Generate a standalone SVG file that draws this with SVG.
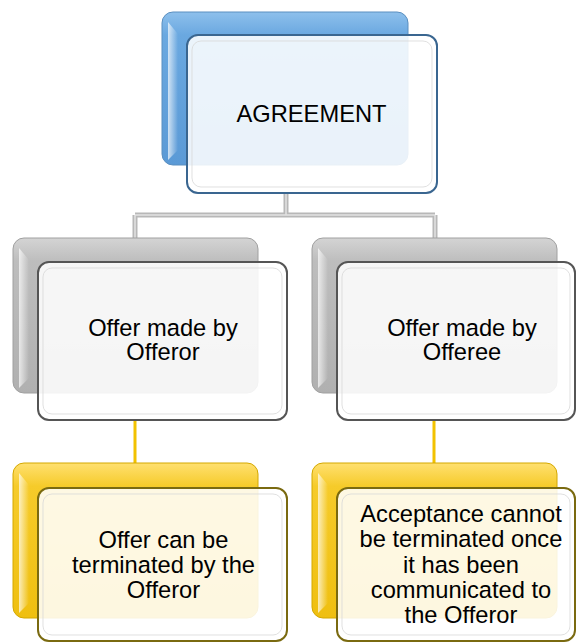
<svg xmlns="http://www.w3.org/2000/svg" width="576" height="642" viewBox="0 0 576 642">
<defs>
<linearGradient id="gBlue" x1="0" y1="0" x2="0" y2="1">
<stop offset="0" stop-color="#8ec0ec"/><stop offset="0.15" stop-color="#6aa8e0"/><stop offset="1" stop-color="#5b9ad6"/>
</linearGradient>
<linearGradient id="gGrey" x1="0" y1="0" x2="0" y2="1">
<stop offset="0" stop-color="#d4d4d4"/><stop offset="0.15" stop-color="#bdbdbd"/><stop offset="1" stop-color="#b0b0b0"/>
</linearGradient>
<linearGradient id="gGold" x1="0" y1="0" x2="0" y2="1">
<stop offset="0" stop-color="#ffe070"/><stop offset="0.15" stop-color="#f6cb2a"/><stop offset="1" stop-color="#efbf10"/>
</linearGradient>
<linearGradient id="gLeft" x1="0" y1="0" x2="1" y2="0">
<stop offset="0" stop-color="#ffffff" stop-opacity="0.7"/><stop offset="1" stop-color="#ffffff" stop-opacity="0"/>
</linearGradient>
</defs>
<style>
.back{stroke-width:1}
.bb{fill:url(#gBlue);stroke:#5a8fc0}
.bg{fill:url(#gGrey);stroke:#a0a0a0}
.by{fill:url(#gGold);stroke:#d4a800}
.hl{fill:url(#gLeft)}
.front{fill:#ffffff;fill-opacity:0.87;stroke-width:2}
.fb{stroke:#3a6690}
.fg{stroke:#555555}
.fy{stroke:#7a6a10}
.inner{fill:none;stroke:#ffffff;stroke-width:3;stroke-opacity:0.9}
.innerShade{fill:none;stroke:#d8d8d8;stroke-width:1;stroke-opacity:0.8}
.t{font-family:"Liberation Sans",Arial,sans-serif;font-size:23.7px;fill:#000;text-anchor:middle}
.cg{stroke:#b8b8b8;stroke-width:5;fill:none}
.cgi{stroke:#e2e2e2;stroke-width:1.5;fill:none}
.cy{stroke:#f2c200;stroke-width:3;fill:none}
</style>
<g id="connectors">
<path class="cg" d="M286,192 V215 M135,215 H435 M135,215 V239 M435,215 V239"/>
<path class="cgi" d="M286,192 V215 M135,215 H435 M135,215 V239 M435,215 V239"/>
<path class="cy" d="M135,420 V464 M434,420 V464"/>
</g>
<g id="agreement">
<rect class="back bb" x="162" y="12" width="246" height="153" rx="11"/>
<path class="hl" d="M168,22 L178,34 V150 L168,160 Z"/>
<rect class="front fb" x="187" y="35" width="250" height="158" rx="11"/>
<rect class="innerShade" x="192" y="41" width="240" height="146" rx="9"/>
<text class="t" x="311.5" y="122">AGREEMENT</text>
</g>
<g id="offeror">
<rect class="back bg" x="13" y="238" width="245" height="155" rx="11"/>
<path class="hl" d="M19,248 L29,260 V378 L19,388 Z"/>
<rect class="front fg" x="38" y="262" width="249" height="158" rx="11"/>
<rect class="innerShade" x="43" y="268" width="239" height="146" rx="9"/>
<text class="t" x="163" y="335.5">Offer made by</text>
<text class="t" x="163" y="360">Offeror</text>
</g>
<g id="offeree">
<rect class="back bg" x="312" y="238" width="245" height="155" rx="11"/>
<path class="hl" d="M318,248 L328,260 V378 L318,388 Z"/>
<rect class="front fg" x="337" y="262" width="238" height="158" rx="11"/>
<rect class="innerShade" x="342" y="268" width="228" height="146" rx="9"/>
<text class="t" x="462" y="335.5">Offer made by</text>
<text class="t" x="462" y="360">Offeree</text>
</g>
<g id="offer-terminated">
<rect class="back by" x="13" y="463" width="245" height="155" rx="11"/>
<path class="hl" d="M19,473 L29,485 V603 L19,613 Z"/>
<rect class="front fy" x="38" y="488" width="249" height="153" rx="11"/>
<rect class="innerShade" x="43" y="494" width="239" height="141" rx="9"/>
<text class="t" x="163.5" y="548">Offer can be</text>
<text class="t" x="163.5" y="573">terminated by the</text>
<text class="t" x="163.5" y="598">Offeror</text>
</g>
<g id="acceptance">
<rect class="back by" x="312" y="463" width="245" height="155" rx="11"/>
<path class="hl" d="M318,473 L328,485 V603 L318,613 Z"/>
<rect class="front fy" x="337" y="488" width="238" height="153" rx="11"/>
<rect class="innerShade" x="342" y="494" width="228" height="141" rx="9"/>
<text class="t" x="461" y="521.5">Acceptance cannot</text>
<text class="t" x="461" y="547">be terminated once</text>
<text class="t" x="461" y="572.5">it has been</text>
<text class="t" x="461" y="598">communicated to</text>
<text class="t" x="461" y="623">the Offeror</text>
</g>
</svg>
